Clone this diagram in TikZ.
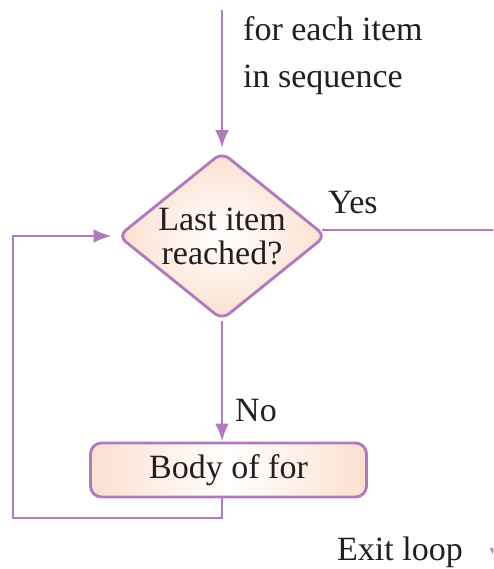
\documentclass[tikz,border=0pt]{standalone}
\usepackage{fontspec}
\setmainfont{Liberation Serif}
\usetikzlibrary{arrows.meta,shapes.geometric}
\definecolor{lineP}{RGB}{178,122,190}
\definecolor{peach}{RGB}{252,224,208}
\definecolor{txt}{RGB}{35,31,32}
\tikzset{
  conn/.style={draw=lineP, line width=2.9pt, -{Latex[length=18pt,width=14pt]}},
  plain/.style={draw=lineP, line width=2.9pt},
  lbl/.style={text=txt, font=\fontsize{34}{38}\selectfont, anchor=base west, inner sep=0pt},
  decision/.style={shape=diamond, draw=lineP, line width=2.9pt, rounded corners=9pt,
    minimum width=208pt, minimum height=168pt, inner sep=0pt, aspect=1.24,
    inner color=white, outer color=peach, align=center, text=txt,
    font=\fontsize{34}{36}\selectfont},
  process/.style={shape=rectangle, draw=lineP, line width=2.9pt, rounded corners=11pt,
    minimum width=276pt, minimum height=54pt, inner sep=0pt,
    left color=peach, right color=peach, middle color=white, text=txt,
    font=\fontsize{34}{38}\selectfont}
}
\begin{document}
\begin{tikzpicture}[x=1pt,y=-1pt]
\useasboundingbox (0,0) rectangle (493,569);
\clip (0,0) rectangle (493,569);
\coordinate (start) at (222,10);
\node[decision] (dia) at (222,236) {\raisebox{-2pt}{Last item}\\reached?};
\node[process] (body) at (228.5,470) {\raisebox{-4pt}{Body of for}};
\coordinate (loopb) at (13,518);
\coordinate (yesend) at (500,230);
\coordinate (exittop) at (496.5,520);
\coordinate (exitend) at (496.5,566);
\draw[conn, shorten >=2.5pt] (start) -- (dia.north);
\draw[conn] (dia.south) -- (dia.south |- body.north);
\draw[conn, shorten >=5pt] (body.south -| dia.south) |- (loopb) |- (dia.west);
\draw[plain] ([xshift=-5pt]dia.east |- yesend) -- (yesend);
\draw[conn] (exittop) -- (exitend);
\node[lbl] (t1) at (243,41) {for each item};
\node[lbl] (t2) at (243,88) {in sequence};
\node[lbl] (yes) at (328,213) {Yes};
\node[lbl] (no) at (235,421) {No};
\node[lbl] (exit) at (337,560) {Exit loop};
\end{tikzpicture}
\end{document}
